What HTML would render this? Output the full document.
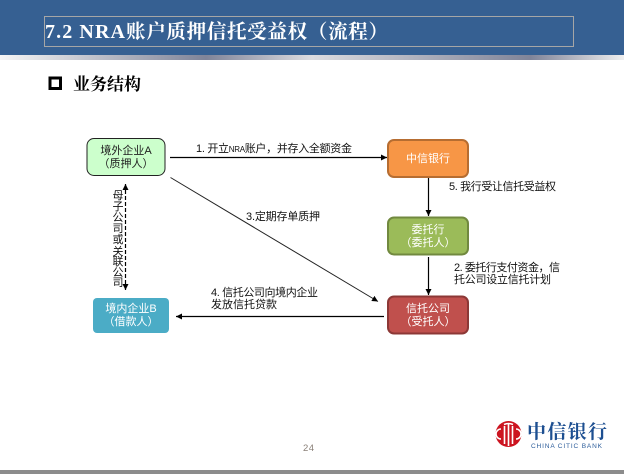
<!DOCTYPE html>
<html><head><meta charset="utf-8"><style>
html,body{margin:0;padding:0;background:#fff}
svg{display:block}
.s{font-family:"Liberation Sans","WenQuanYi Zen Hei","Noto Sans CJK SC",sans-serif;font-size:11px;fill:#111}
.w{fill:#fff;text-anchor:middle}
.k{fill:#222;text-anchor:middle}
.t{font-family:"Liberation Serif","Noto Serif CJK SC",serif;font-weight:700}
</style></head><body>
<svg width="624" height="474" viewBox="0 0 624 474" xmlns="http://www.w3.org/2000/svg">
<defs>
<linearGradient id="g"><stop offset="0" stop-color="#f6f6f6"/><stop offset=".33" stop-color="#7f8499"/><stop offset=".5" stop-color="#dcdce0"/><stop offset=".85" stop-color="#7f8499"/><stop offset="1" stop-color="#efefef"/></linearGradient>
<marker id="a" markerWidth="7" markerHeight="7" refX="6" refY="3" orient="auto" markerUnits="userSpaceOnUse"><path d="M0,0L6,3L0,6Z" fill="#000"/></marker>
<marker id="b" markerWidth="7" markerHeight="7" refX="0" refY="3" orient="auto" markerUnits="userSpaceOnUse"><path d="M6,0L0,3L6,6Z" fill="#000"/></marker>
</defs>
<rect width="624" height="55" fill="#366092"/>
<rect y="55" width="624" height="5" fill="url(#g)"/>
<rect x="44.5" y="16.5" width="529" height="30" fill="none" stroke="#a6a6a6"/>
<text class="t" x="45" y="38" font-size="20" fill="#fff" textLength="80" lengthAdjust="spacing">7.2 NRA</text>
<text class="t" x="126" y="38" font-size="19.500" fill="#fff" textLength="262" lengthAdjust="spacing">账户质押信托受益权（流程）</text>
<rect x="50" y="78" width="10.500" height="10.500" fill="none" stroke="#000" stroke-width="3"/>
<text class="t" x="73" y="90" font-size="17" fill="#000">业务结构</text>

<rect x="87" y="138.5" width="78" height="37" rx="7" fill="#ccffcc" stroke="#222" stroke-width="1"/>
<text class="s k" x="126" y="154">境外企业A</text><text class="s k" x="126" y="167">（质押人）</text>
<rect x="388" y="140" width="80" height="37" rx="6" fill="#f79646" stroke="#b66d31" stroke-width="2"/>
<text class="s w" x="428" y="162">中信银行</text>
<rect x="388" y="217.5" width="80" height="37" rx="6" fill="#9bbb59" stroke="#71893f" stroke-width="2"/>
<text class="s w" x="428" y="233">委托行</text><text class="s w" x="428" y="246">（委托人）</text>
<rect x="388" y="296.5" width="80" height="37" rx="6" fill="#c0504d" stroke="#8c3836" stroke-width="2"/>
<text class="s w" x="428" y="312">信托公司</text><text class="s w" x="428" y="325">（受托人）</text>
<rect x="93" y="298" width="76" height="35" rx="4" fill="#4bacc6"/>
<text class="s w" x="131" y="312">境内企业B</text><text class="s w" x="131" y="325">（借款人）</text>

<g stroke="#000" fill="none">
<path d="M170 157.5H387" stroke-width="1.2" marker-end="url(#a)"/>
<path d="M170.500 177.500L378 301.500" stroke="#222" marker-end="url(#a)"/>
<path d="M428.500 178V216" stroke-width="1.2" marker-end="url(#a)"/>
<path d="M428.500 257V295" stroke-width="1.2" marker-end="url(#a)"/>
<path d="M384 316.500H176" stroke-width="1.2" marker-end="url(#a)"/>
<path d="M125.500 184V290" stroke-width="1.2" stroke-dasharray="4 2" marker-start="url(#b)" marker-end="url(#a)"/>
</g>

<text class="s" x="196" y="152" textLength="156">1. 开立<tspan font-size="8">NRA</tspan>账户，并存入全额资金</text>
<text class="s" x="449" y="190" textLength="107">5. 我行受让信托受益权</text>
<text class="s" x="246" y="220" textLength="74">3.定期存单质押</text>
<text class="s" x="454" y="271" textLength="106">2. 委托行支付资金，信</text>
<text class="s" x="454" y="283" textLength="97">托公司设立信托计划</text>
<text class="s" x="211" y="296" textLength="107">4. 信托公司向境内企业</text>
<text class="s" x="211" y="308" textLength="66">发放信托贷款</text>
<g>
<text class="s" x="118" y="199" text-anchor="middle">母</text>
<text class="s" x="118" y="210" text-anchor="middle">子</text>
<text class="s" x="118" y="221" text-anchor="middle">公</text>
<text class="s" x="118" y="232" text-anchor="middle">司</text>
<text class="s" x="118" y="243" text-anchor="middle">或</text>
<text class="s" x="118" y="255" text-anchor="middle">关</text>
<text class="s" x="118" y="265" text-anchor="middle">联</text>
<text class="s" x="118" y="276" text-anchor="middle">公</text>
<text class="s" x="118" y="286" text-anchor="middle">司</text>
</g>

<text x="303" y="451" font-family="Liberation Sans,sans-serif" font-size="9.500" fill="#8a8078" letter-spacing=".5">24</text>

<circle cx="508.500" cy="434" r="13" fill="#cc1420"/>
<g stroke="#fff" stroke-width="1.600" fill="none">
<path d="M508.500 423V446M504.500 426V444M512.500 426V444"/>
<path d="M501 429a5 5 0 0 0 0 10M516 429a5 5 0 0 1 0 10"/>
<path d="M504 424.500q4.500 -2 9 0"/>
</g>
<text x="527" y="438" font-family="Noto Serif CJK SC,serif" font-weight="700" font-size="19" fill="#1d4f91" textLength="80">中信银行</text>
<text x="531" y="448" font-family="Liberation Sans,sans-serif" font-size="6.500" fill="#2b5c9a" textLength="71">CHINA CITIC BANK</text>

<rect y="470" width="624" height="4" fill="#8c8c8c"/>
</svg>
</body></html>
